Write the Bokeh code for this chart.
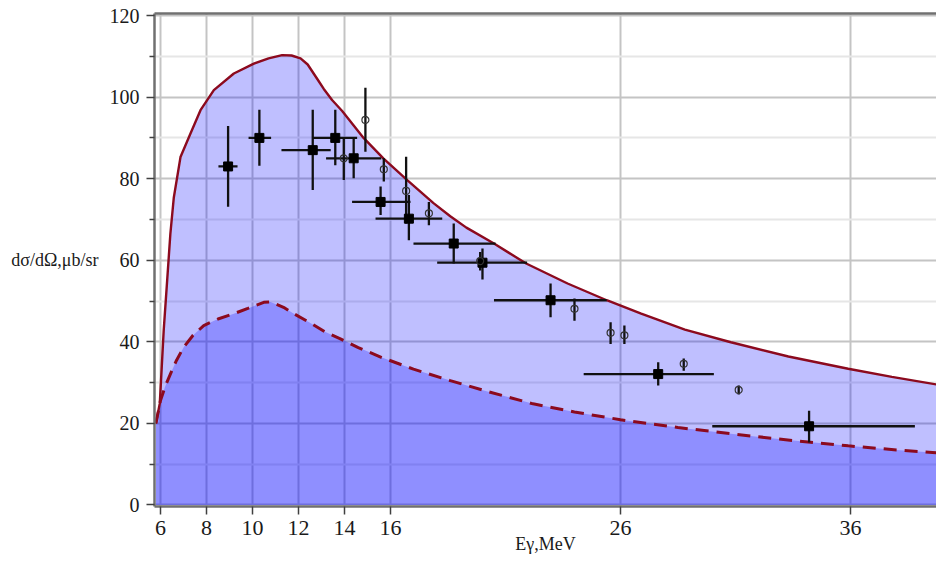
from bokeh.plotting import figure
from bokeh.models import FixedTicker, LinearAxis, Range1d
from bokeh.embed import file_html
from bokeh.resources import INLINE

# Upper (solid) theoretical curve
theory_x = [5.8, 5.97, 6.14, 6.29, 6.43, 6.58, 6.87, 7.3, 7.74, 8.32, 9.19, 10.06,
            10.7, 11.29, 11.7, 12.09, 12.4, 12.81, 13.1, 13.46, 13.9, 14.83, 15.7, 16.74,
            17.87, 18.6, 19.3, 20.5, 21.9, 23.7, 25.4, 26.9, 28.8, 30.8, 33.3, 35.9, 37.8, 39.8]
theory_y = [20.0, 24.9, 42.8, 55.0, 66.5, 75.4, 85.3, 91.0, 96.8, 101.7, 105.8, 108.2,
            109.5, 110.3, 110.2, 109.5, 108.0, 104.5, 102.0, 99.3, 96.6, 90.0, 84.9, 79.6,
            74.0, 70.8, 68.0, 64.1, 59.2, 54.3, 50.2, 46.9, 43.0, 39.9, 36.4, 33.4, 31.4, 29.5]

# Lower (dashed) curve
dashed_x = [5.8, 6.0, 6.2, 6.43, 6.7, 7.01, 7.4, 7.88, 8.5, 9.19, 9.8, 10.49, 10.75,
            11.0, 11.4, 11.8, 12.5, 13.17, 13.8, 14.6, 15.6, 17.0, 18.6, 20.05, 22.2,
            24.0, 26.0, 28.5, 30.9, 33.5, 35.9, 38.0, 39.8]
dashed_y = [20.0, 25.6, 29.0, 32.1, 35.5, 38.7, 41.5, 44.0, 45.6, 46.9, 48.2, 49.7, 49.8,
            49.3, 48.3, 46.9, 44.7, 42.4, 40.8, 38.6, 36.2, 33.3, 30.5, 28.1, 24.8,
            22.8, 20.9, 19.0, 17.4, 15.8, 14.5, 13.5, 12.8]

# Filled squares with x and y errors
sq_x   = [8.94, 10.3, 12.62, 13.6, 14.4, 15.57, 16.8, 18.75, 20.0, 22.96, 27.64, 34.2]
sq_y   = [83.0, 90.0, 87.0, 90.0, 85.0, 74.3, 70.2, 64.1, 59.4, 50.2, 32.1, 19.3]
sq_xlo = [8.52, 9.83, 11.26, 12.6, 13.2, 14.33, 15.35, 17.0, 18.03, 20.5, 24.4, 29.99]
sq_xhi = [9.35, 10.81, 13.4, 14.55, 15.6, 16.87, 18.25, 20.57, 21.94, 25.4, 30.06, 38.8]
sq_ylo = [73.1, 83.2, 77.2, 83.3, 80.1, 71.1, 64.9, 59.2, 55.3, 46.0, 29.3, 15.3]
sq_yhi = [92.9, 96.9, 96.9, 96.9, 89.9, 78.1, 76.0, 69.0, 62.9, 54.3, 35.0, 23.1]

# Open circles with y errors
ci_x   = [13.97, 14.91, 15.71, 16.68, 17.67, 19.9, 24.0, 25.57, 26.17, 28.75, 31.14]
ci_y   = [85.0, 94.4, 82.3, 77.0, 71.5, 59.8, 48.1, 42.2, 41.6, 34.6, 28.2]
ci_ylo = [79.7, 86.6, 79.3, 69.0, 68.6, 57.5, 45.2, 39.5, 39.5, 32.9, 27.1]
ci_yhi = [89.9, 102.3, 85.0, 85.4, 74.3, 62.0, 50.6, 44.8, 44.0, 35.9, 29.3]

x_ticks = [6, 8, 10, 12, 14, 16, 26, 36]
y_ticks = [0, 20, 40, 60, 80, 100, 120]
y_minor = [10, 30, 50, 70, 90, 110]

p = figure(width=936, height=561, x_range=Range1d(5.74, 39.74),
           y_range=Range1d(-0.37, 120.5), output_backend="svg",
           toolbar_location=None, min_border_left=154, min_border_right=0,
           min_border_top=13, min_border_bottom=55)
p.outline_line_color = None
p.background_fill_color = "white"
p.border_fill_color = "white"

# grids
p.xgrid.ticker = FixedTicker(ticks=x_ticks, minor_ticks=[])
p.xgrid.grid_line_color = "#c4c4c4"
p.xgrid.grid_line_width = 2
p.ygrid.ticker = FixedTicker(ticks=y_ticks, minor_ticks=y_minor)
p.ygrid.grid_line_color = "#c4c4c4"
p.ygrid.grid_line_width = 2
p.ygrid.minor_grid_line_color = "#e6e6e6"
p.ygrid.minor_grid_line_width = 2

# fills
p.varea(x=theory_x, y1=0, y2=theory_y, fill_color="#0000ff", fill_alpha=0.25)
p.varea(x=dashed_x, y1=0, y2=dashed_y, fill_color="#0000ff", fill_alpha=0.25)

# curves
p.line(theory_x, theory_y, line_color="#8c0a1e", line_width=2.4)
p.line(dashed_x, dashed_y, line_color="#8c0a1e", line_width=3, line_dash="13 8")

# error bars
p.segment(x0=sq_xlo, y0=sq_y, x1=sq_xhi, y1=sq_y, line_color="#111111", line_width=2.3)
p.segment(x0=sq_x, y0=sq_ylo, x1=sq_x, y1=sq_yhi, line_color="#111111", line_width=2.3)
p.segment(x0=ci_x, y0=ci_ylo, x1=ci_x, y1=ci_yhi, line_color="#111111", line_width=2.3)
p.scatter(sq_x, sq_y, marker="square", size=9, fill_color="black", line_color="black")
p.scatter(ci_x, ci_y, marker="circle", size=7, fill_color=None, line_color="#333333",
          line_width=1.2)

# axes
for ax in (p.xaxis[0], p.yaxis[0]):
    ax.axis_line_color = "#707070"
    ax.axis_line_width = 2.5
    ax.major_tick_line_color = "#404040"
    ax.major_tick_line_width = 1.5
    ax.major_tick_in = 0
    ax.major_tick_out = 8
    ax.minor_tick_line_color = "#404040"
    ax.minor_tick_line_width = 1.5
    ax.minor_tick_in = 0
    ax.minor_tick_out = 5
    ax.major_label_text_font = "Liberation Serif"
    ax.major_label_text_color = "#1a1a1a"
    ax.axis_label_text_font = "Liberation Serif"
    ax.axis_label_text_font_style = "normal"
    ax.axis_label_text_color = "#1a1a1a"

p.xaxis.ticker = FixedTicker(ticks=x_ticks, minor_ticks=[])
p.yaxis.ticker = FixedTicker(ticks=y_ticks, minor_ticks=y_minor)
p.xaxis.major_label_text_font_size = "22px"
p.yaxis.major_label_text_font_size = "20px"
p.xaxis.major_label_standoff = 6
p.yaxis.major_label_standoff = 7
p.xaxis.axis_label = "Eγ,MeV"
p.xaxis.axis_label_text_font_size = "18px"
p.xaxis.axis_label_standoff = -4
p.yaxis.axis_label = "dσ/dΩ,μb/sr"
p.yaxis.axis_label_text_font_size = "18px"
p.yaxis.axis_label_orientation = "horizontal"
p.yaxis.axis_label_standoff = 8

# top frame line (an axis without ticks or labels)
top = LinearAxis(ticker=FixedTicker(ticks=[], minor_ticks=[]),
                 axis_line_color="#707070", axis_line_width=2.5,
                 major_tick_line_color=None, minor_tick_line_color=None,
                 major_tick_out=0, minor_tick_out=0, major_label_standoff=0)
p.add_layout(top, "above")

open("out.html", "w").write(file_html(p, INLINE))
